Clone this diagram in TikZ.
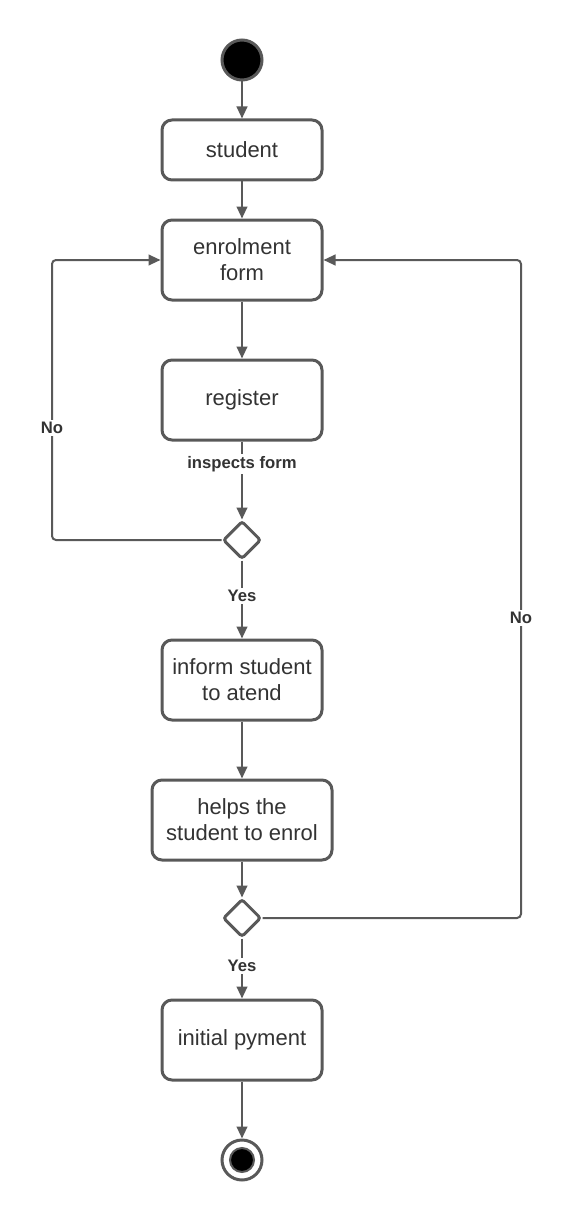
\documentclass[tikz,border=0pt]{standalone}
\usepackage{fontspec}
\setmainfont{Liberation Sans}
\usetikzlibrary{shapes.geometric,arrows.meta}

\definecolor{lineGrey}{RGB}{89,89,89}
\definecolor{textGrey}{RGB}{51,51,51}

\tikzset{
  activity/.style={draw=lineGrey, line width=2.25pt, rounded corners=7.5pt, fill=white,
    text=textGrey, align=center, inner sep=0pt,
    font=\fontsize{16.5}{19.5}\selectfont, minimum width=120pt, minimum height=60pt},
  decision/.style={diamond, draw=lineGrey, line width=2.25pt, rounded corners=2pt,
    fill=white, inner sep=0pt, minimum size=28.5pt},
  flow/.style={draw=lineGrey, line width=1.5pt, rounded corners=3pt,
    -{Triangle[length=9pt,width=8pt]}},
  guard/.style={fill=white, text=textGrey, inner sep=1.5pt,
    font=\bfseries\fontsize{12.5}{14}\selectfont},
  startdot/.style={circle, draw=lineGrey, line width=2.25pt, fill=black,
    inner sep=0pt, minimum size=30pt},
  endring/.style={circle, draw=lineGrey, line width=2.25pt, fill=white,
    inner sep=0pt, minimum size=30pt},
  endcore/.style={circle, draw=lineGrey, line width=1.5pt, fill=black,
    inner sep=0pt, minimum size=18pt}
}

\begin{document}
\begin{tikzpicture}[x=0.75pt,y=0.75pt,yscale=-1,xscale=1]
%set diagram left start at 0, and has height of 1220
\path[use as bounding box] (0,0) rectangle (574,1220);

% Start / end
\node[startdot] (start) at (242,60) {};
\node[endring] (finish) at (242,1160) {};
\node[endcore] (finishCore) at (finish) {};

% Activities
\node[activity, minimum height=45pt] (student) at (242,150) {student};
\node[activity] (enrolForm) at (242,260) {enrolment\\form};
\node[activity] (register) at (242,400) {register};
\node[activity] (inform) at (242,680) {inform student\\to atend};
\node[activity, minimum width=135pt] (helps) at (242,820) {helps the\\student to enrol};
\node[activity] (payment) at (242,1040) {initial pyment};

% Decisions
\node[decision] (checkForm) at (242,540) {};
\node[decision] (checkEnrol) at (242,918) {};

% Loop corners
\coordinate (leftCorner) at (52,540);
\coordinate (rightCorner) at (521,918);

% Straight Lines
\draw[flow] (start) -- (student);
\draw[flow] (student) -- (enrolForm);
\draw[flow] (enrolForm) -- (register);
\draw[flow] (register) -- (checkForm);
\draw[flow] (checkForm) -- (inform);
\draw[flow] (inform) -- (helps);
\draw[flow] (helps) -- (checkEnrol);
\draw[flow] (checkEnrol) -- (payment);
\draw[flow] (payment) -- (finish);

% Loops back to the form
\draw[flow] (checkForm.west) -- (leftCorner) |- (enrolForm.west);
\draw[flow] (checkEnrol.east) -- (rightCorner) |- (enrolForm.east);

% Text Node
\node[guard] (inspectsLabel) at (242,464) {inspects form};
\node[guard] (yesForm) at (242,596) {Yes};
\node[guard] (noForm) at (52,428) {No};
\node[guard] (yesEnrol) at (242,966) {Yes};
\node[guard] (noEnrol) at (521,618) {No};

\end{tikzpicture}
\end{document}
